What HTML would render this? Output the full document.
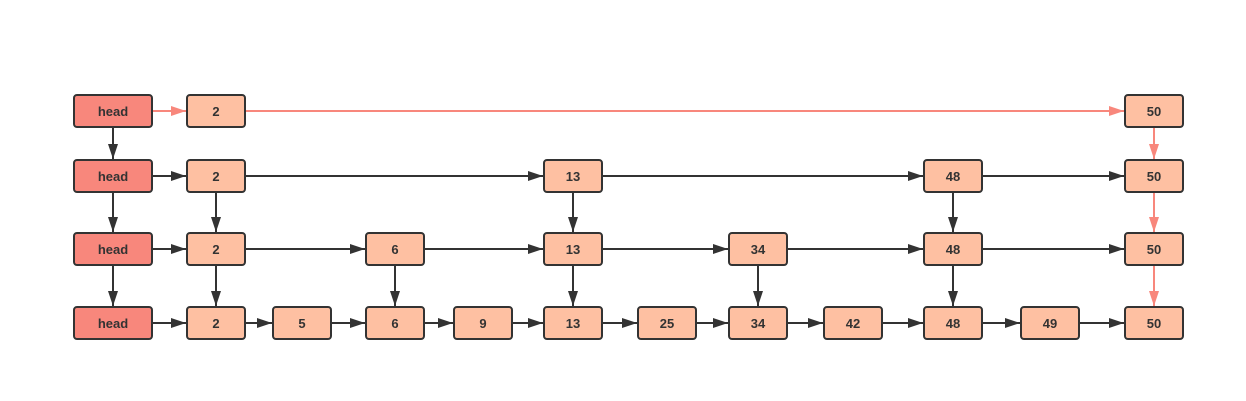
<!DOCTYPE html>
<html><head><meta charset="utf-8"><style>
html,body{margin:0;padding:0;background:#fff;width:1246px;height:401px;overflow:hidden}
text{font-family:"Liberation Sans",sans-serif;font-weight:bold;font-size:13px;fill:#333}
</style></head><body>
<svg width="1246" height="401" viewBox="0 0 1246 401" xmlns="http://www.w3.org/2000/svg">
<defs>
<marker id="b" markerUnits="userSpaceOnUse" markerWidth="16" markerHeight="12" refX="15" refY="5" orient="auto"><path d="M0,0 L15,5 L0,10 Z" fill="#333"/></marker>
<marker id="r" markerUnits="userSpaceOnUse" markerWidth="16" markerHeight="12" refX="15" refY="5" orient="auto"><path d="M0,0 L15,5 L0,10 Z" fill="#f8877c"/></marker>
</defs>
<g stroke-width="2" fill="none">
<!-- row0 -->
<line x1="152" y1="111" x2="186" y2="111" stroke="#f8877c" marker-end="url(#r)"/>
<line x1="245" y1="111" x2="1124" y2="111" stroke="#f8877c" marker-end="url(#r)"/>
<!-- row1 -->
<g stroke="#333" marker-end="url(#b)">
<line x1="152" y1="176" x2="186" y2="176"/>
<line x1="245" y1="176" x2="543" y2="176"/>
<line x1="602" y1="176" x2="923" y2="176"/>
<line x1="982" y1="176" x2="1124" y2="176"/>
<!-- row2 -->
<line x1="152" y1="249" x2="186" y2="249"/>
<line x1="245" y1="249" x2="365" y2="249"/>
<line x1="424" y1="249" x2="543" y2="249"/>
<line x1="602" y1="249" x2="728" y2="249"/>
<line x1="787" y1="249" x2="923" y2="249"/>
<line x1="982" y1="249" x2="1124" y2="249"/>
<!-- row3 -->
<line x1="152" y1="323" x2="186" y2="323"/>
<line x1="245" y1="323" x2="272" y2="323"/>
<line x1="331" y1="323" x2="365" y2="323"/>
<line x1="424" y1="323" x2="453" y2="323"/>
<line x1="512" y1="323" x2="543" y2="323"/>
<line x1="602" y1="323" x2="637" y2="323"/>
<line x1="696" y1="323" x2="728" y2="323"/>
<line x1="787" y1="323" x2="823" y2="323"/>
<line x1="882" y1="323" x2="923" y2="323"/>
<line x1="982" y1="323" x2="1020" y2="323"/>
<line x1="1079" y1="323" x2="1124" y2="323"/>
<!-- verticals -->
<line x1="113" y1="127" x2="113" y2="159"/>
<line x1="113" y1="192" x2="113" y2="232"/>
<line x1="113" y1="265" x2="113" y2="306"/>
<line x1="216" y1="192" x2="216" y2="232"/>
<line x1="216" y1="265" x2="216" y2="306"/>
<line x1="395" y1="265" x2="395" y2="306"/>
<line x1="573" y1="192" x2="573" y2="232"/>
<line x1="573" y1="265" x2="573" y2="306"/>
<line x1="758" y1="265" x2="758" y2="306"/>
<line x1="953" y1="192" x2="953" y2="232"/>
<line x1="953" y1="265" x2="953" y2="306"/>
</g>
<g stroke="#f8877c" marker-end="url(#r)">
<line x1="1154" y1="127" x2="1154" y2="159"/>
<line x1="1154" y1="192" x2="1154" y2="232"/>
<line x1="1154" y1="265" x2="1154" y2="306"/>
</g>
</g>
<g stroke="#333" stroke-width="2">
<!-- heads -->
<rect x="74" y="95" width="78" height="32" rx="3" fill="#f8877c"/>
<rect x="74" y="160" width="78" height="32" rx="3" fill="#f8877c"/>
<rect x="74" y="233" width="78" height="32" rx="3" fill="#f8877c"/>
<rect x="74" y="307" width="78" height="32" rx="3" fill="#f8877c"/>
<g fill="#fec0a2">
<rect x="187" y="95" width="58" height="32" rx="3"/>
<rect x="1125" y="95" width="58" height="32" rx="3"/>
<rect x="187" y="160" width="58" height="32" rx="3"/>
<rect x="544" y="160" width="58" height="32" rx="3"/>
<rect x="924" y="160" width="58" height="32" rx="3"/>
<rect x="1125" y="160" width="58" height="32" rx="3"/>
<rect x="187" y="233" width="58" height="32" rx="3"/>
<rect x="366" y="233" width="58" height="32" rx="3"/>
<rect x="544" y="233" width="58" height="32" rx="3"/>
<rect x="729" y="233" width="58" height="32" rx="3"/>
<rect x="924" y="233" width="58" height="32" rx="3"/>
<rect x="1125" y="233" width="58" height="32" rx="3"/>
<rect x="187" y="307" width="58" height="32" rx="3"/>
<rect x="273" y="307" width="58" height="32" rx="3"/>
<rect x="366" y="307" width="58" height="32" rx="3"/>
<rect x="454" y="307" width="58" height="32" rx="3"/>
<rect x="544" y="307" width="58" height="32" rx="3"/>
<rect x="638" y="307" width="58" height="32" rx="3"/>
<rect x="729" y="307" width="58" height="32" rx="3"/>
<rect x="824" y="307" width="58" height="32" rx="3"/>
<rect x="924" y="307" width="58" height="32" rx="3"/>
<rect x="1021" y="307" width="58" height="32" rx="3"/>
<rect x="1125" y="307" width="58" height="32" rx="3"/>
</g>
</g>
<g text-anchor="middle">
<text x="113" y="116">head</text><text x="113" y="181">head</text><text x="113" y="254">head</text><text x="113" y="328">head</text>
<text x="216" y="116">2</text><text x="1154" y="116">50</text>
<text x="216" y="181">2</text><text x="573" y="181">13</text><text x="953" y="181">48</text><text x="1154" y="181">50</text>
<text x="216" y="254">2</text><text x="395" y="254">6</text><text x="573" y="254">13</text><text x="758" y="254">34</text><text x="953" y="254">48</text><text x="1154" y="254">50</text>
<text x="216" y="328">2</text><text x="302" y="328">5</text><text x="395" y="328">6</text><text x="483" y="328">9</text><text x="573" y="328">13</text><text x="667" y="328">25</text><text x="758" y="328">34</text><text x="853" y="328">42</text><text x="953" y="328">48</text><text x="1050" y="328">49</text><text x="1154" y="328">50</text>
</g>
</svg>
</body></html>
